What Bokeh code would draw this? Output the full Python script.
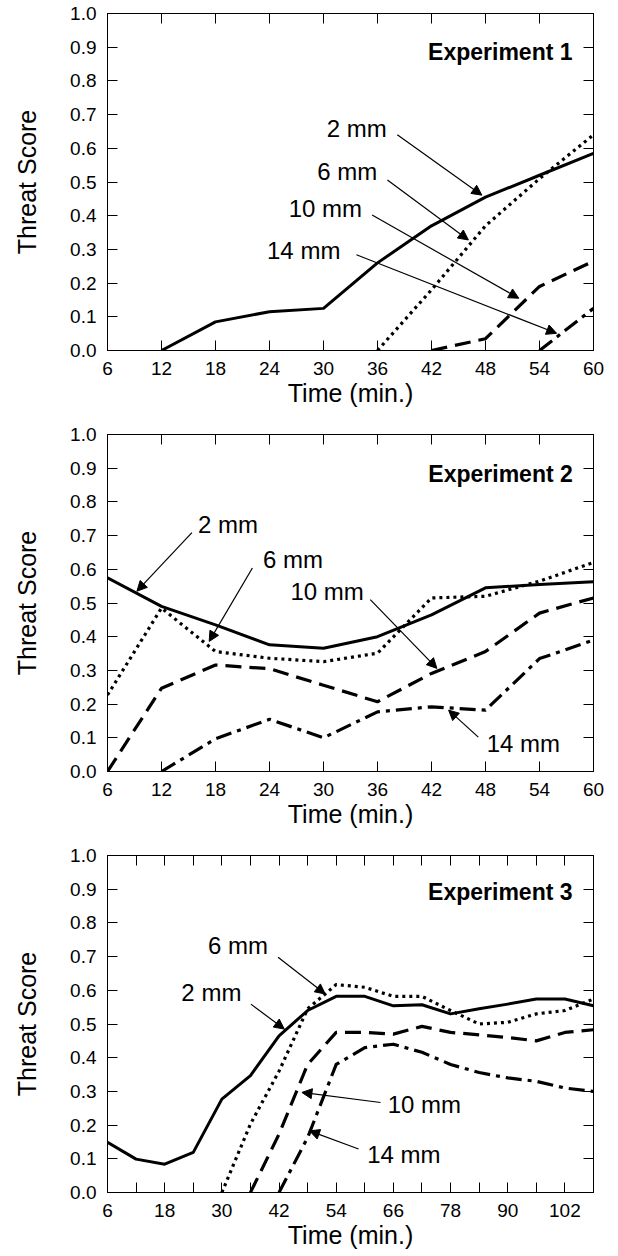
from bokeh.plotting import figure
from bokeh.models import (Range1d, FixedTicker, LinearAxis, Arrow, NormalHead,
                          Label, PrintfTickFormatter)
from bokeh.layouts import column
from bokeh.embed import file_html
from bokeh.resources import INLINE

FONT = "Liberation Sans"

# ---------------- data ----------------
# Experiment 1
e1_t_2mm = [12, 18, 24, 30, 36, 42, 48, 54, 60]
e1_2mm = [0.0, 0.085, 0.115, 0.125, 0.26, 0.37, 0.455, 0.52, 0.585]
e1_t_6mm = [36, 42, 48, 54, 60]
e1_6mm = [0.0, 0.18, 0.37, 0.51, 0.64]
e1_t_10mm = [42, 48, 54, 60]
e1_10mm = [0.0, 0.035, 0.19, 0.265]
e1_t_14mm = [54, 60]
e1_14mm = [0.0, 0.125]

# Experiment 2
e2_t = [6, 12, 18, 24, 30, 36, 42, 48, 54, 60]
e2_2mm = [0.575, 0.49, 0.435, 0.376, 0.366, 0.40, 0.465, 0.545, 0.555, 0.563]
e2_6mm = [0.227, 0.485, 0.356, 0.336, 0.326, 0.351, 0.515, 0.52, 0.565, 0.62]
e2_10mm = [0.0, 0.247, 0.316, 0.305, 0.256, 0.207, 0.291, 0.356, 0.47, 0.515]
e2_t_14mm = [12, 18, 24, 30, 36, 42, 48, 54, 60]
e2_14mm = [0.0, 0.097, 0.155, 0.10, 0.177, 0.192, 0.182, 0.335, 0.39]

# Experiment 3
e3_t = [6, 12, 18, 24, 30, 36, 42, 48, 54, 60, 66, 72, 78, 84, 90, 96, 102, 108]
e3_2mm = [0.149, 0.099, 0.084, 0.119, 0.277, 0.347, 0.465, 0.54, 0.582, 0.582,
          0.554, 0.557, 0.53, 0.545, 0.559, 0.574, 0.574, 0.554]
e3_t_6mm = [30, 36, 42, 48, 54, 60, 66, 72, 78, 84, 90, 96, 102, 108]
e3_6mm = [0.0, 0.203, 0.36, 0.545, 0.617, 0.609, 0.582, 0.582, 0.54, 0.50,
          0.505, 0.53, 0.54, 0.574]
e3_t_10mm = [36, 42, 48, 54, 60, 66, 72, 78, 84, 90, 96, 102, 108]
e3_10mm = [0.0, 0.173, 0.38, 0.475, 0.475, 0.47, 0.493, 0.475, 0.468, 0.46,
           0.45, 0.475, 0.483]
e3_t_14mm = [42, 48, 54, 60, 66, 72, 78, 84, 90, 96, 102, 108]
e3_14mm = [0.0, 0.163, 0.38, 0.43, 0.44, 0.416, 0.38, 0.356, 0.34, 0.33, 0.31, 0.30]

# ticks
y_ticks = [0.0, 0.1, 0.2, 0.3, 0.4, 0.5, 0.6, 0.7, 0.8, 0.9, 1.0]
x_ticks_60 = [6, 12, 18, 24, 30, 36, 42, 48, 54, 60]
x_ticks_108 = [6, 12, 18, 24, 30, 36, 42, 48, 54, 60, 66, 72, 78, 84, 90, 96, 102, 108]
x_labels_108 = [6, 18, 30, 42, 54, 66, 78, 90, 102]

series_names = ["2 mm", "6 mm", "10 mm", "14 mm"]

# annotation labels: (text, x, y) and arrows: (x_tail, y_tail, x_head, y_head)
e1_labels = [("2 mm", 33.7, 0.659), ("6 mm", 32.65, 0.531),
             ("10 mm", 30.2, 0.422), ("14 mm", 27.8, 0.298)]
e1_arrows = [(38.2, 0.64, 47.6, 0.461), (37.1, 0.506, 46.1, 0.328),
             (35.4, 0.402, 51.7, 0.155), (33.66, 0.284, 55.9, 0.051)]
e2_labels = [("2 mm", 19.4, 0.734), ("6 mm", 26.6, 0.629),
             ("10 mm", 30.4, 0.535), ("14 mm", 52.2, 0.083)]
e2_arrows = [(15.38, 0.709, 9.27, 0.535), (22.1, 0.604, 17.3, 0.386),
             (35.2, 0.51, 42.6, 0.306), (47.2, 0.102, 43.9, 0.182)]
e3_labels = [("6 mm", 33.4, 0.733), ("2 mm", 27.8, 0.594),
             ("10 mm", 72.5, 0.262), ("14 mm", 68.2, 0.114)]
e3_arrows = [(41.8, 0.698, 51.7, 0.589), (36.1, 0.559, 43.1, 0.485),
             (63.3, 0.267, 46.8, 0.297), (58.7, 0.129, 48.4, 0.183)]

# line styles per series
styles = {
    "2 mm": dict(line_dash="solid", line_width=3),
    "6 mm": dict(line_dash="3 4", line_width=3.2),
    "10 mm": dict(line_dash="16 8", line_width=3.2),
    "14 mm": dict(line_dash="16 6 4 6", line_width=3.2),
}


def make_panel(height, bottom, x_end, x_ticks, shown_labels, series, labels,
               arrows, title, title_x, title_y):
    p = figure(width=618, height=height, x_range=Range1d(6, x_end),
               y_range=Range1d(0, 1), output_backend="svg",
               toolbar_location=None, min_border_left=107,
               min_border_right=25, min_border_top=13,
               min_border_bottom=bottom, background_fill_color="white",
               border_fill_color="white")
    p.grid.visible = False
    p.outline_line_color = "black"
    p.outline_line_width = 1

    overrides = {t: ("" if t not in shown_labels else str(t)) for t in x_ticks}

    xa = p.xaxis[0]
    xa.ticker = FixedTicker(ticks=x_ticks)
    xa.major_label_overrides = overrides
    xa.axis_label = "Time (min.)"
    ya = p.yaxis[0]
    ya.ticker = FixedTicker(ticks=y_ticks)
    ya.formatter = PrintfTickFormatter(format="%.1f")
    ya.axis_label = "Threat Score"

    for ax in (xa, ya):
        ax.axis_line_color = "black"
        ax.axis_line_width = 1
        ax.major_tick_in = 10
        ax.major_tick_out = 0
        ax.major_tick_line_color = "black"
        ax.major_tick_line_width = 1
        ax.minor_tick_line_color = None
        ax.major_label_text_font = FONT
        ax.major_label_text_font_size = "19px"
        ax.major_label_text_color = "black"
        ax.major_label_standoff = 11
        ax.axis_label_text_font = FONT
        ax.axis_label_text_font_style = "normal"
        ax.axis_label_text_color = "black"
    xa.axis_label_text_font_size = "25px"
    xa.axis_label_standoff = 1
    ya.axis_label_text_font_size = "25px"
    ya.axis_label_standoff = 26

    top = LinearAxis(ticker=FixedTicker(ticks=x_ticks),
                     major_label_overrides={t: "" for t in x_ticks},
                     major_label_text_font_size="0px", major_label_standoff=0,
                     major_tick_in=10, major_tick_out=0,
                     minor_tick_line_color=None, axis_line_color="black")
    p.add_layout(top, "above")
    right = LinearAxis(ticker=FixedTicker(ticks=y_ticks),
                       major_label_overrides={t: "" for t in y_ticks},
                       major_label_text_font_size="0px", major_label_standoff=0,
                       major_tick_in=10, major_tick_out=0,
                       minor_tick_line_color=None, axis_line_color="black")
    p.add_layout(right, "right")

    for name, (xs, ys) in zip(series_names, series):
        p.line(xs, ys, line_color="black", line_cap="butt", line_join="round",
               **styles[name])

    for (txt, x, y) in labels:
        p.add_layout(Label(x=x, y=y, text=txt, text_font=FONT,
                           text_font_size="24px", text_color="black",
                           text_align="center", text_baseline="middle"))
    for (x0, y0, x1, y1) in arrows:
        p.add_layout(Arrow(x_start=x0, y_start=y0, x_end=x1, y_end=y1,
                           line_color="black", line_width=1.2,
                           end=NormalHead(size=10, fill_color="black",
                                          line_color="black", line_width=1)))

    p.add_layout(Label(x=title_x, y=title_y, text=title, text_font=FONT,
                       text_font_size="23px", text_font_style="bold",
                       text_color="black", text_align="right",
                       text_baseline="middle"))
    return p


p1 = make_panel(421, 71, 60, x_ticks_60, x_ticks_60,
                [(e1_t_2mm, e1_2mm), (e1_t_6mm, e1_6mm),
                 (e1_t_10mm, e1_10mm), (e1_t_14mm, e1_14mm)],
                e1_labels, e1_arrows, "Experiment 1", 57.67, 0.885)
p2 = make_panel(421, 71, 60, x_ticks_60, x_ticks_60,
                [(e2_t, e2_2mm), (e2_t, e2_6mm),
                 (e2_t, e2_10mm), (e2_t_14mm, e2_14mm)],
                e2_labels, e2_arrows, "Experiment 2", 57.7, 0.883)
p3 = make_panel(414, 64, 108, x_ticks_108, x_labels_108,
                [(e3_t, e3_2mm), (e3_t_6mm, e3_6mm),
                 (e3_t_10mm, e3_10mm), (e3_t_14mm, e3_14mm)],
                e3_labels, e3_arrows, "Experiment 3", 103.6, 0.891)

layout = column(p1, p2, p3, spacing=0)
open("out.html", "w").write(file_html(layout, INLINE))
